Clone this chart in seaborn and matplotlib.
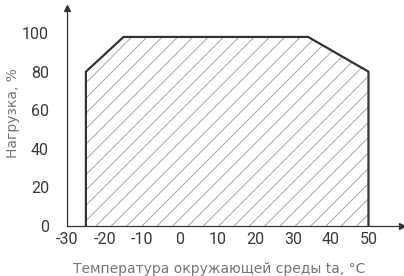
import numpy as np
import pandas as pd
import seaborn as sns
import matplotlib.pyplot as plt

# derating curve
temp = [-25, -25, -15, 34, 50, 50]
load = [0, 80, 98, 98, 80, 0]

x_ticks = [-30, -20, -10, 0, 10, 20, 30, 40, 50]
y_ticks = [0, 20, 40, 60, 80, 100]

# hatch spacing follows the dpi, so render at 92 dpi and scale sizes back
DPI = 92
S = 100 / DPI

sns.set_theme(style="white")
plt.rcParams['font.family'] = ['Roboto', 'DejaVu Sans']
plt.rcParams['axes.unicode_minus'] = False
plt.rcParams['hatch.color'] = '#9a9a9a'
plt.rcParams['hatch.linewidth'] = 0.6 * S

df = pd.DataFrame({'t': temp, 'load': load})

fig = plt.figure(figsize=(404 / DPI, 276 / DPI), dpi=DPI)
ax = fig.add_axes([0.166, 0.181, 0.83, 0.79])

ax.fill_between(df['t'], 0, df['load'], facecolor='white', edgecolor='#9a9a9a',
                hatch='//', linewidth=0)
sns.lineplot(data=df, x='t', y='load', sort=False, color='#333333',
             linewidth=1.6 * S, ax=ax, estimator=None)

ax.set_xlim(-30, 59)
ax.set_ylim(0, 113)
ax.set_xticks(x_ticks)
ax.set_yticks(y_ticks)
ax.tick_params(direction='in', length=4 * S, width=0.8 * S, color='#333333',
               labelsize=11.5 * S, labelcolor='#3a3a3a', pad=4 * S)
ax.tick_params(axis='y', length=5 * S, pad=13 * S)

for s in ['top', 'right']:
    ax.spines[s].set_visible(False)
for s in ['left', 'bottom']:
    ax.spines[s].set_color('#333333')
    ax.spines[s].set_linewidth(0.9 * S)

ax.plot(1, 0, '>', color='#333333', markersize=4 * S, transform=ax.transAxes, clip_on=False)
ax.plot(0, 1, '^', color='#333333', markersize=4 * S, transform=ax.transAxes, clip_on=False)

ax.set_xlabel('Температура окружающей среды ta, °C', fontsize=10 * S, color='#777777',
              family='DejaVu Sans')
ax.set_ylabel('Нагрузка, %', fontsize=10 * S, color='#777777', family='DejaVu Sans')
ax.xaxis.set_label_coords(0.455, -0.165)
ax.yaxis.set_label_coords(-0.14, 0.52)

fig.savefig('out.png', dpi=DPI)
